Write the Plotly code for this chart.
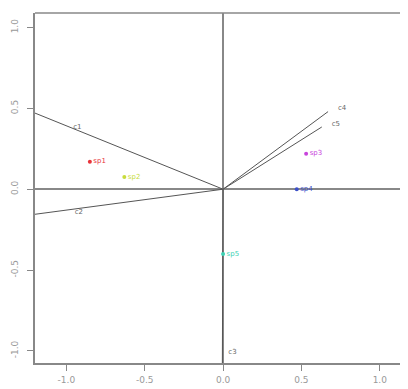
import plotly.graph_objects as go

# variable vectors (from origin)
vec_names = ["c1", "c2", "c3", "c4", "c5"]
vec_x = [-1.30, -1.30, -0.005, 0.67, 0.63]
vec_y = [0.51, -0.168, -1.20, 0.48, 0.385]
vec_lab_x = [-0.93, -0.92, 0.06, 0.76, 0.72]
vec_lab_y = [0.385, -0.14, -1.01, 0.50, 0.40]

# sample points
pt_names = ["sp1", "sp2", "sp3", "sp4", "sp5"]
pt_x = [-0.85, -0.63, 0.53, 0.47, 0.00]
pt_y = [0.17, 0.075, 0.22, 0.00, -0.40]
pt_colors = ["#e8323a", "#c8dc3c", "#c844dc", "#3c50c8", "#3cd2b4"]

x_ticks = [-1.0, -0.5, 0.0, 0.5, 1.0]
y_ticks = [-1.0, -0.5, 0.0, 0.5, 1.0]
tick_text = ["-1.0", "-0.5", "0.0", "0.5", "1.0"]

fig = go.Figure()

for i in range(len(vec_names)):
    fig.add_trace(go.Scatter(x=[0, vec_x[i]], y=[0, vec_y[i]], mode="lines",
                             line=dict(color="#555555", width=1), showlegend=False,
                             hoverinfo="skip"))

fig.add_trace(go.Scatter(x=vec_lab_x, y=vec_lab_y, mode="text", text=vec_names,
                         textfont=dict(size=7, color="#666666"), showlegend=False))

fig.add_trace(go.Scatter(x=pt_x, y=pt_y, mode="markers+text", text=pt_names,
                         textposition="middle right",
                         marker=dict(color=pt_colors, size=4),
                         textfont=dict(size=7, color=pt_colors), showlegend=False))

fig.update_layout(
    width=400, height=381,
    margin=dict(l=27, r=0, t=5, b=26),
    paper_bgcolor="white", plot_bgcolor="white",
    font=dict(family="DejaVu Sans", color="#888888"),
    xaxis=dict(range=[-1.2, 1.18], tickvals=x_ticks, ticktext=tick_text, automargin=False,
               showgrid=False, zeroline=True, zerolinecolor="#888888", zerolinewidth=1.5,
               showline=True, linecolor="#888888", linewidth=1.5,
               ticks="outside", ticklen=6, tickcolor="#888888", ticklabelstandoff=1,
               tickfont=dict(size=9, color="#999999")),
    yaxis=dict(range=[-1.075, 1.09], tickvals=y_ticks, ticktext=tick_text, automargin=False,
               showgrid=False, zeroline=True, zerolinecolor="#888888", zerolinewidth=1.5,
               showline=True, linecolor="#888888", linewidth=1.5,
               ticks="outside", ticklen=6, tickcolor="#888888", tickangle=-90,
               ticklabelstandoff=6, tickfont=dict(size=9, color="#999999")),
    shapes=[dict(type="line", xref="paper", yref="paper", x0=0, x1=1, y0=1, y1=1,
                 line=dict(color="#888888", width=1.5))],
)

fig.write_html("out.html")
